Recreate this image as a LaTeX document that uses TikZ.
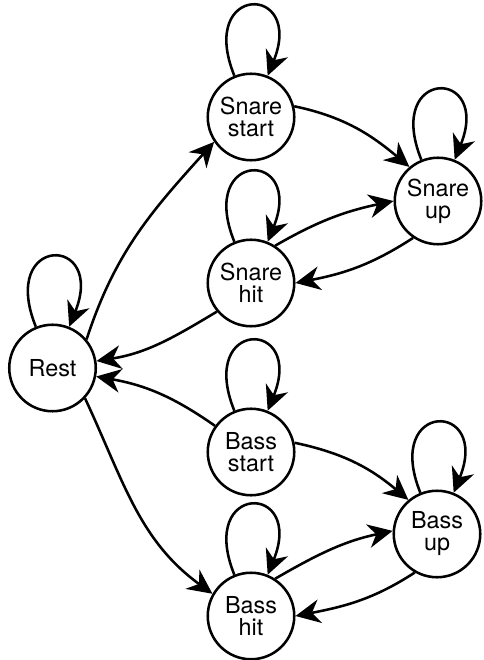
\documentclass[tikz,border=0pt]{standalone}
\usepackage{fontspec}
\setmainfont{TeX Gyre Heros}
\usetikzlibrary{positioning, arrows.meta}
\tikzset{
  every picture/.style={
    line width=1.45pt
  },
  state/.style={
    circle, draw, align=center, inner sep=0pt, minimum size=1.73cm,
    font=\fontsize{13.3}{12.5}\selectfont
  },
  trans/.style={-{Stealth[length=14pt, width=13.5pt, inset=4.5pt]}},
  selfloop/.style={trans, out=112, in=68, distance=2cm}
}

\begin{document}
\begin{tikzpicture}[on grid]
  \useasboundingbox (-1.05,7.36) rectangle (8.61,-5.84);

  \node[state] (rest) at (0,0) {Rest};
  \node[state, above right=5.02cm and 3.97cm of rest] (sstart) {Snare\\start};
  \node[state, below=3.32cm of sstart] (shit) {Snare\\hit};
  \node[state, below right=1.68cm and 3.74cm of sstart] (sup) {Snare\\up};
  \node[state, below=3.38cm of shit] (bstart) {Bass\\start};
  \node[state, below right=1.64cm and 3.72cm of bstart] (bup) {Bass\\up};
  \node[state, below=3.28cm of bstart] (bhit) {Bass\\hit};

  % self loops
  \foreach \n in {rest, sstart, shit, sup, bstart, bup, bhit}
    \draw[selfloop] (\n) to (\n);

  % rest <-> snare / bass
  \draw[trans] (rest.40) to[out=72, in=228] (sstart.214);
  \draw[trans] (rest.-43) to[out=-65, in=144] (bhit.150);
  \draw[trans] (shit.220) to[out=211, in=9] (rest.9);
  \draw[trans] (bstart.144) to[out=145, in=-10] (rest.-11);

  % snare
  \draw[trans] (sstart.14) to[out=-12, in=140] (sup.130);
  \draw[trans] (shit.57) to[out=30, in=192] (sup.180);
  \draw[trans] (sup.236) to[out=213, in=11] (shit.0);

  % bass
  \draw[trans] (bstart.12) to[out=-12, in=140] (bup.130);
  \draw[trans] (bhit.57) to[out=30, in=192] (bup.176);
  \draw[trans] (bup.240) to[out=213, in=11] (bhit.0);
\end{tikzpicture}
\end{document}
